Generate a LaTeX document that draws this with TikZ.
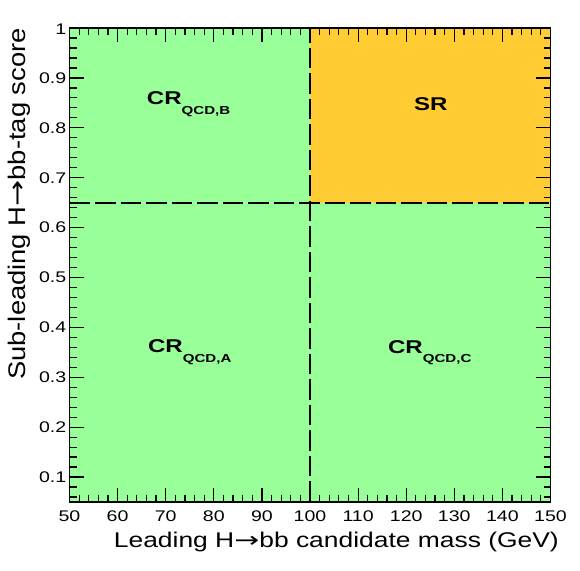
\documentclass[tikz,border=0pt]{standalone}
\usepackage{fontspec}
\setmainfont{Liberation Sans}
\newfontfamily\tickfont[FakeStretch=1.27]{Liberation Sans}
\newfontfamily\titlefont[FakeStretch=1.24]{Liberation Sans}
\newfontfamily\ytitlefont[FakeStretch=1.14]{Liberation Sans}
\newfontfamily\regionfont[FakeStretch=1.3]{Liberation Sans}
\newfontfamily\xarrowfont[FakeStretch=1.4]{DejaVu Sans}
\newfontfamily\yarrowfont[FakeStretch=1.3]{DejaVu Sans}
\definecolor{crgreen}{RGB}{153,255,153}
\definecolor{srorange}{RGB}{255,204,51}
\newcommand{\regionlabel}[1]{{\regionfont\bfseries\fontsize{18.5}{20}\selectfont CR}\raisebox{-9.3pt}{\regionfont\bfseries\fontsize{11.6}{13}\selectfont QCD,#1}}

\begin{document}
\begin{tikzpicture}[x=1pt,y=1pt,
    tick/.style={line width=1.2pt},
    cut/.style={line width=2pt,dash pattern=on 20.7pt off 4.8pt},
    xlab/.style={anchor=base,inner sep=0pt,font=\tickfont\fontsize{15.4}{16}\selectfont},
    ylab/.style={anchor=east,inner sep=0pt,font=\tickfont\fontsize{15.4}{16}\selectfont}]
  \useasboundingbox (0,0) rectangle (580,570);
  \begin{scope}[shift={(-171pt,43.055pt)},x=4.81pt,y=498.9pt]
    % regions
    \fill[crgreen] (50,0.05) rectangle (150,1);
    \fill[srorange] (100,0.65) rectangle (150,1);
    \draw[cut] (50,0.65) -- (150,0.65);
    \draw[cut] (100,0.05) -- (100,1);
    % x axis ticks
    \foreach \v in {50,60,...,150} {
      \draw[tick] (\v,0.05) -- ++(0,14pt);
      \draw[tick] (\v,1) -- ++(0,-14pt);
      \node[xlab] (xl\v) at (\v,0.05) [yshift=-19.7pt] {\v};
    }
    \foreach \v in {52,54,...,148} {
      \draw[tick] (\v,0.05) -- ++(0,7pt);
      \draw[tick] (\v,1) -- ++(0,-7pt);
    }
    % y axis ticks
    \foreach \k in {1,...,10} {
      \draw[tick] (50,\k/10) -- ++(14.7pt,0);
      \draw[tick] (150,\k/10) -- ++(-14.7pt,0);
    }
    \foreach \k in {1,...,9}
      \node[ylab] (yl\k) at (50,\k/10) [xshift=-3pt] {0.\k};
    \node[ylab] (yl10) at (50,1) [xshift=-3pt,yshift=-1pt] {1};
    \foreach \k in {3,...,50} {
      \draw[tick] (50,\k/50) -- ++(7pt,0);
      \draw[tick] (150,\k/50) -- ++(-7pt,0);
    }
    \draw[tick] (50,0.05) rectangle (150,1);
    % region labels
    \node[anchor=base west,inner sep=0pt] (crb) at (66.05,0.846) {\regionlabel{B}};
    \node[anchor=base west,inner sep=0pt] (cra) at (66.3,0.349) {\regionlabel{A}};
    \node[anchor=base west,inner sep=0pt] (crc) at (116.2,0.348) {\regionlabel{C}};
    \node[anchor=base west,inner sep=0pt,font=\regionfont\bfseries\fontsize{18.5}{20}\selectfont] (sr) at (121.6,0.834) {SR};
  \end{scope}
  % axis titles
  \node[anchor=base east,inner sep=0pt,font=\titlefont\fontsize{21.3}{23}\selectfont] (xtitle) at (559,23) {Leading H{\xarrowfont →}bb candidate mass (GeV)};
  \node[anchor=base east,inner sep=0pt,rotate=90,font=\ytitlefont\fontsize{24}{26}\selectfont] (ytitle) at (25.5,542) {Sub-leading H{\yarrowfont →}bb-tag score};
\end{tikzpicture}
\end{document}
